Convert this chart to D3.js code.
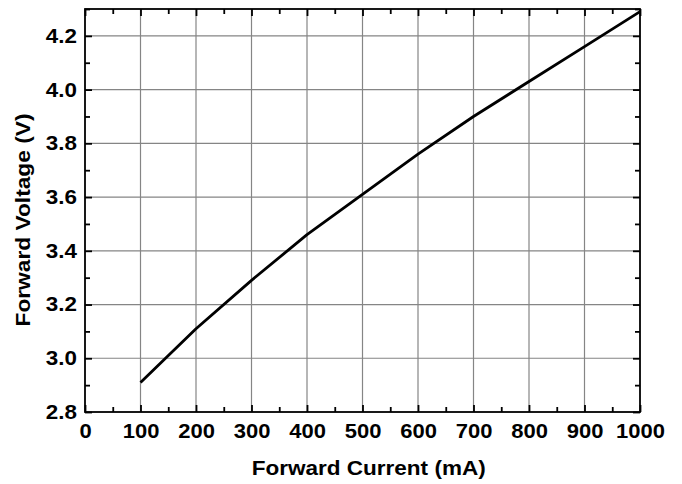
<!DOCTYPE html>
<html>
<head>
<meta charset="utf-8">
<script src="https://cdn.jsdelivr.net/npm/d3@7"></script>
<style>
  html, body { margin: 0; padding: 0; background: #fff; }
  svg { display: block; }
  text { font-family: "Liberation Sans", Arial, Helvetica, sans-serif; font-weight: bold; fill: #000; }
</style>
</head>
<body>
<svg id="chart" width="682" height="484"></svg>
<script>
// Forward current (mA) vs forward voltage (V)
const currentMA = [100, 200, 300, 400, 500, 600, 700, 800, 900, 1000];
const voltageV  = [2.91, 3.11, 3.29, 3.46, 3.61, 3.76, 3.90, 4.03, 4.16, 4.29];

const xTicks = [0, 100, 200, 300, 400, 500, 600, 700, 800, 900, 1000];
const xMinorTicks = [50, 150, 250, 350, 450, 550, 650, 750, 850, 950];
const yTicks = [2.8, 3.0, 3.2, 3.4, 3.6, 3.8, 4.0, 4.2];
const yMinorTicks = [2.9, 3.1, 3.3, 3.5, 3.7, 3.9, 4.1, 4.3];

const xTitle = "Forward Current (mA)";
const yTitle = "Forward Voltage (V)";

const svg = d3.select("#chart");
const plot = { left: 85, right: 640, top: 9, bottom: 412 };

const x = d3.scaleLinear().domain([0, 1000]).range([plot.left, plot.right]);
const y = d3.scaleLinear().domain([2.8, 4.3]).range([plot.bottom, plot.top]);

// grid lines
const grid = svg.append("g").attr("stroke", "#858585").attr("stroke-width", 1.2);
grid.selectAll("line.gx").data(xTicks.slice(1, -1)).join("line")
  .attr("x1", d => x(d)).attr("x2", d => x(d))
  .attr("y1", plot.top).attr("y2", plot.bottom);
grid.selectAll("line.gy").data(yTicks.slice(1)).join("line")
  .attr("x1", plot.left).attr("x2", plot.right)
  .attr("y1", d => y(d)).attr("y2", d => y(d));

// frame
svg.append("rect")
  .attr("x", plot.left).attr("y", plot.top)
  .attr("width", plot.right - plot.left).attr("height", plot.bottom - plot.top)
  .attr("fill", "none").attr("stroke", "#000").attr("stroke-width", 1.8);

// axes with inward ticks on all four sides
function styleAxis(g) {
  g.select(".domain").remove();
  g.selectAll(".tick line").attr("stroke", "#000").attr("stroke-width", 1.8);
}
// slightly widened bold labels
function widen(sel, factor) {
  sel.each(function () {
    const w = this.getComputedTextLength();
    d3.select(this).attr("textLength", w * factor).attr("lengthAdjust", "spacingAndGlyphs");
  });
}
const fmtY = d3.format(".1f");
const MAJOR = 7, MINOR = 5;
const LABEL_SIZE = 20;

svg.append("g").attr("transform", `translate(0,${plot.bottom})`)
  .call(d3.axisBottom(x).tickValues(xTicks).tickSize(-MAJOR).tickPadding(18).tickFormat(d3.format("d")))
  .call(styleAxis)
  .call(g => g.selectAll("text").attr("font-size", LABEL_SIZE).attr("dy", "0.71em").attr("y", 12))
  .call(g => widen(g.selectAll("text"), 1.1));
svg.append("g").attr("transform", `translate(0,${plot.bottom})`)
  .call(d3.axisBottom(x).tickValues(xMinorTicks).tickSize(-MINOR).tickFormat(""))
  .call(styleAxis);
svg.append("g").attr("transform", `translate(0,${plot.top})`)
  .call(d3.axisTop(x).tickValues(xTicks).tickSize(-MAJOR).tickFormat(""))
  .call(styleAxis);
svg.append("g").attr("transform", `translate(0,${plot.top})`)
  .call(d3.axisTop(x).tickValues(xMinorTicks).tickSize(-MINOR).tickFormat(""))
  .call(styleAxis);

svg.append("g").attr("transform", `translate(${plot.left},0)`)
  .call(d3.axisLeft(y).tickValues(yTicks).tickSize(-MAJOR).tickPadding(14).tickFormat(fmtY))
  .call(styleAxis)
  .call(g => g.selectAll("text").attr("font-size", LABEL_SIZE).attr("x", -8))
  .call(g => widen(g.selectAll("text"), 1.12));
svg.append("g").attr("transform", `translate(${plot.left},0)`)
  .call(d3.axisLeft(y).tickValues(yMinorTicks).tickSize(-MINOR).tickFormat(""))
  .call(styleAxis);
svg.append("g").attr("transform", `translate(${plot.right},0)`)
  .call(d3.axisRight(y).tickValues(yTicks).tickSize(-MAJOR).tickFormat(""))
  .call(styleAxis);
svg.append("g").attr("transform", `translate(${plot.right},0)`)
  .call(d3.axisRight(y).tickValues(yMinorTicks).tickSize(-MINOR).tickFormat(""))
  .call(styleAxis);

// data curve
const pts = currentMA.map((c, i) => [c, voltageV[i]]);
svg.append("path").datum(pts)
  .attr("fill", "none").attr("stroke", "#000").attr("stroke-width", 2.8)
  .attr("stroke-linejoin", "round")
  .attr("d", d3.line().x(d => x(d[0])).y(d => y(d[1])));

// axis titles
svg.append("text")
  .attr("x", 368.7).attr("y", 475)
  .attr("text-anchor", "middle").attr("font-size", 20)
  .attr("textLength", 234).attr("lengthAdjust", "spacingAndGlyphs")
  .text(xTitle);
svg.append("text")
  .attr("transform", "translate(30,220) rotate(-90)")
  .attr("text-anchor", "middle").attr("font-size", 20)
  .attr("textLength", 213).attr("lengthAdjust", "spacingAndGlyphs")
  .text(yTitle);
</script>
</body>
</html>
